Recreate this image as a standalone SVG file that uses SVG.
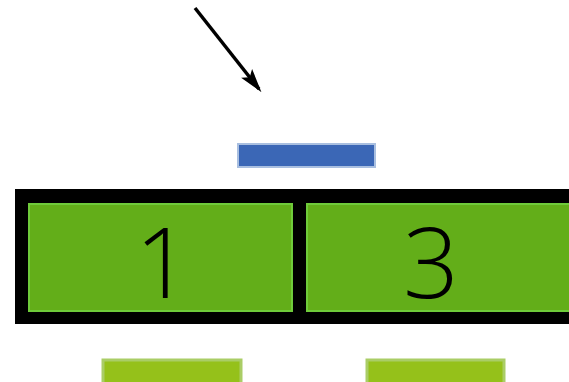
<svg xmlns="http://www.w3.org/2000/svg" width="569" height="382" viewBox="0 0 569 382">
<style>
.cell{fill:#63ae19;stroke:#6fcb3a;stroke-width:2}
.num{font-family:"Open Sans","DejaVu Sans",sans-serif;font-size:98px;font-weight:300;fill:#000;text-anchor:middle}
.bar{fill:#95c11a;stroke:#aacd66;stroke-width:3}
</style>
<defs>
<marker id="ah" markerWidth="24" markerHeight="16" refX="20" refY="8" orient="auto" markerUnits="userSpaceOnUse" viewBox="0 0 24 16">
<path d="M0,1 L24,8 L0,15 L5,8 z" fill="#000"/>
</marker>
</defs>
<rect width="569" height="382" fill="#fff"/>
<g id="connectors">
<line x1="195" y1="8" x2="259" y2="89" stroke="#000" stroke-width="3.5" marker-end="url(#ah)"/>
</g>
<g id="pointer">
<rect x="238" y="144" width="137" height="23" fill="#3b67b6" stroke="#a9bfe0" stroke-width="2"/>
</g>
<g id="array">
<rect x="15" y="189" width="560" height="135" fill="#000"/>
</g>
<g id="cell1">
<rect class="cell" x="29" y="204" width="263" height="107"/>
<text class="num" x="163" y="298">1</text>
</g>
<g id="cell3">
<rect class="cell" x="307" y="204" width="275" height="107"/>
<text class="num" x="431" y="298">3</text>
</g>
<g id="bar1">
<rect class="bar" x="103" y="360" width="138" height="30"/>
</g>
<g id="bar2">
<rect class="bar" x="367" y="360" width="137" height="30"/>
</g>
</svg>
